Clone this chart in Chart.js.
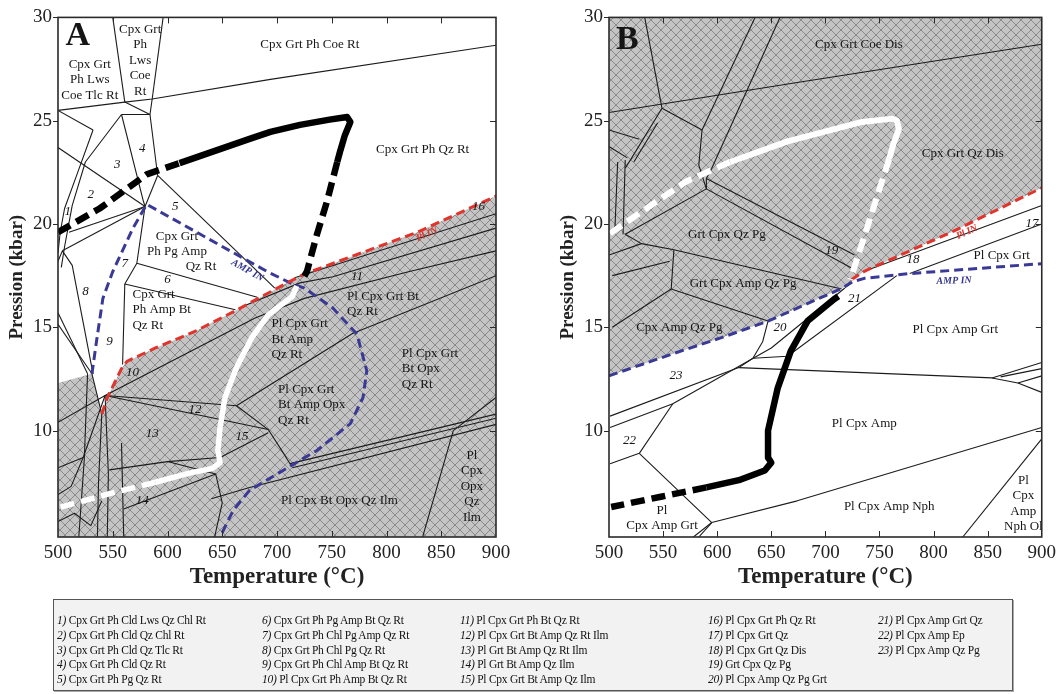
<!DOCTYPE html>
<html>
<head>
<meta charset="utf-8">
<script src="https://cdn.jsdelivr.net/npm/chart.js@4.4.1/dist/chart.umd.min.js"></script>
<style>
  body { margin: 0; background: #fff; width: 1061px; height: 694px; position: relative; overflow: hidden; font-family: "Liberation Serif", serif; }
  #cA { position: absolute; left: 0; top: 0; }
  #cB { position: absolute; left: 551px; top: 0; }
  #legend { position: absolute; left: 53px; top: 599px; width: 958px; height: 90px; background: #f2f2f2; border: 1px solid #555; box-shadow: 1px 1px 0 #aaa; }
  .col { position: absolute; top: 13px; font-size: 11.5px; letter-spacing: -0.25px; line-height: 14.75px; color: #111; white-space: nowrap; }
</style>
</head>
<body>
<canvas id="cA" width="530" height="600"></canvas>
<canvas id="cB" width="510" height="600"></canvas>
<div id="legend"></div>
<script>
// axes
const xTicks = [500, 550, 600, 650, 700, 750, 800, 850, 900];
const yTicks = [10, 15, 20, 25, 30];
const tMin = 500, tMax = 900, pMin = 4.85, pMax = 30;

// ---- panel A ----
const plInA = [[540,10.8],[545,11.6],[558,13.0],[563,13.35],[589,14.0],[625,14.8],[662,15.8],[711,17.2],[726,17.6],[828,19.6],[900,21.35]];
const shadeTopA = [[500,12.3],[531,12.75]].concat(plInA);
const ampInA = [[531,12.75],[535.6,14.48],[541,16.4],[550,17.7],[568.5,19.8],[581,20.95],[691,17.7],[712,17.15],[725,16.9],[751,15.93],[773,14.67],[782,12.89],[778.5,11.59],[767,10.34],[736.5,9.04],[705.5,8.07],[675,7.11],[660,6.14],[648,4.85]];

const progradeA = [[500,19.6],[538,20.75],[581,22.4],[611,22.95]];
const peakA = [[611,22.95],[675,24.12],[694,24.46],[721,24.8],[748,25.05],[764,25.18],[767,24.94],[762,24.3],[757.5,23.49],[755,23.0]];
const decompA = [[755,23.0],[745.6,21.08],[736.5,19.5],[727.4,17.71],[722,17.2]];
const retroA = [[718,17.0],[714,16.5],[692,15.6],[677,14.5],[663,13.05],[652.5,11.6],[648,10.15],[646,9.04],[648,8.45],[641,8.17],[619,7.93],[589,7.5]];
const coolA = [[589,7.5],[548,6.96],[502,6.29]];

const linesA = [
  [[500,25.5],[561,25.9],[586,26.05],[694,27.0],[900,28.65]],
  [[550,30],[561,25.9]],
  [[596,30],[586,26.05]],
  [[561,25.9],[584,25.3]],
  [[558,25.3],[584,25.3]],
  [[586,26.05],[584,25.3],[591,22.35]],
  [[558,25.3],[578,21.1],[579.5,20.85]],
  [[591,22.35],[579.5,20.85]],
  [[591,22.35],[698,16.9]],
  [[500,23.7],[579.5,20.85]],
  [[500,25.5],[532,24.55]],
  [[532,24.55],[518,22.5],[506,20.75],[502,19.6],[500,18.6]],
  [[558,25.3],[525,23.0],[513,20.9],[506,18.9],[503,17.9]],
  [[579.5,20.85],[510,19.6]],
  [[579.5,20.85],[504,18.7]],
  [[500,18.2],[504,18.7],[513,18.0],[522,15.5],[532,12.75]],
  [[500,15.7],[527,12.75]],
  [[500,15.15],[531,12.75]],
  [[579.5,20.85],[572,18.1],[682,16.45]],
  [[572,18.1],[561,17.1],[662,15.85]],
  [[561,17.1],[559,13.2]],
  [[543,11.7],[663,11.2],[692,10.05]],
  [[663,11.2],[769,14.7],[900,17.5]],
  [[543,11.7],[692,10.05],[706,8.9],[713,8.3]],
  [[543,11.7],[680,15.45],[725,16.4],[821,17.7],[900,18.7]],
  [[668,16.0],[721,17.15],[751,17.45],[900,19.8]],
  [[716,17.4],[900,20.5]],
  [[712,8.4],[900,10.8]],
  [[714,8.2],[900,10.6]],
  [[640,6.7],[675,7.25],[900,10.3]],
  [[833,4.85],[861,10.0],[900,11.6]],
  [[543,11.7],[546,7.9],[545,4.85]],
  [[540,10.8],[537,7.5],[536,4.85]],
  [[500,10.4],[543,11.7]],
  [[547,8.1],[600,8.5],[648,8.7],[692,9.9]],
  [[558,9.4],[560,4.85]],
  [[527,12.75],[524,8.6],[519,4.85]],
  [[531,12.75],[540,10.8]],
  [[500,8.2],[523,8.7],[543,11.7]],
  [[500,6.9],[512,7.3],[523,8.7]],
  [[600,8.5],[644,7.9],[650,6.5],[643,4.85]],
  [[560,6.2],[644,7.9]],
  [[500,5.6],[515,6.0],[530,5.4],[540,6.6]]
];

const regionsA = [
  ['Cpx Grt\nPh Lws\nCoe Tlc Rt', 529, 27.73],
  ['Cpx Grt\nPh\nLws\nCoe\nRt', 575, 29.42],
  ['Cpx Grt Ph Coe Rt', 730, 28.7],
  ['Cpx Grt Ph Qz Rt', 833, 23.6],
  ['Cpx Grt\nPh Pg Amp', 608.6, 19.4],
  ['Qz Rt', 630.6, 17.95],
  ['Cpx Grt\nPh Amp Bt\nQz Rt', 568, 16.6, 'left'],
  ['Pl Cpx Grt\nBt Amp\nQz Rt', 695, 15.16, 'left'],
  ['Pl Cpx Grt Bt\nQz Rt', 764, 16.5, 'left'],
  ['Pl Cpx Grt\nBt Opx\nQz Rt', 814, 13.75, 'left'],
  ['Pl Cpx Grt\nBt Amp Opx\nQz Rt', 701, 12.0, 'left'],
  ['Pl Cpx Bt Opx Qz Ilm', 757, 6.6],
  ['Pl\nCpx\nOpx\nQz\nIlm', 878, 8.8]
];
const numbersA = [['1',509,20.6],['2',530,21.4],['3',554,22.9],['4',577,23.65],['5',607,20.85],['6',600,17.3],['7',561,18.1],['8',525,16.75],['9',547,14.3],['10',568,12.8],['11',773,17.45],['12',625,11.0],['13',586,9.85],['14',577,6.6],['15',668,9.7],['16',884,20.85]];
const tagsA = [['AMP IN', 673, 17.75, 29.5], ['Pl IN', 837, 19.5, -24]];
const letterA = ['A', 518, 29.1];

// ---- panel B ----
const plInB = [[724,17.3],[736,17.71],[818,19.64],[900,21.75]];
const ampInB = [[500,12.65],[558,13.7],[604,14.5],[647,15.3],[690,16.3],[716,16.9],[725,17.2],[736,17.37],[778,17.6],[900,18.08]];
const shadeBottomB = [[500,12.65],[558,13.7],[604,14.5],[647,15.3],[690,16.3],[716,16.9],[724,17.25]].concat(plInB.slice(1));

const progradeB = [[501,19.55],[571,22.05],[612,23.0]];
const peakB = [[612,23.0],[665,24.0],[734,24.94],[762,25.1],[766,25.0],[768,24.6],[763,23.9],[759,23.16]];
const decompB = [[759,23.16],[747,21.2],[736,19.4],[726.5,17.86],[723,17.3]];
const retroB = [[712,16.5],[708,16.36],[683.5,15.3],[668,13.85],[656,12.07],[647,10.0],[647,8.7],[650,8.45],[644,8.07],[620,7.6],[590,7.25]];
const coolB = [[590,7.25],[548,6.8],[502,6.3]];

const linesB = [
  [[500,25.4],[674,26.85],[900,28.7]],
  [[533,30],[549,25.6]],
  [[635,30],[586,24.55]],
  [[658,30],[595,22.7]],
  [[549,25.6],[586,24.55],[583,22.85],[590,21.7]],
  [[595,22.7],[590,22.2],[590,21.7]],
  [[549,25.6],[521,23.2],[515,22.7]],
  [[545,24.9],[523,23.0]],
  [[500,24.55],[528,24.1]],
  [[500,23.75],[517,23.2]],
  [[515,23.1],[513,19.5]],
  [[508,23.0],[505.5,19.8]],
  [[590,22.2],[727,18.5]],
  [[590,21.7],[725,17.85]],
  [[590,21.7],[515,19.5],[530,19.05],[560,18.75]],
  [[500,18.5],[530,19.05]],
  [[560,18.75],[715,16.85]],
  [[560,18.75],[557.5,16.85],[647,15.3]],
  [[557.5,16.85],[503,15.0]],
  [[503,17.5],[556,18.2]],
  [[647,15.3],[642,14.3],[633,13.5],[620,13.05]],
  [[501,10.7],[620,13.05],[854,12.55]],
  [[501,10.15],[559,11.3],[650,14.0],[718,16.9]],
  [[633,13.5],[665,13.6],[766,17.5]],
  [[736,17.71],[900,20.9]],
  [[778,17.6],[900,20.0]],
  [[854,12.55],[900,13.3]],
  [[854,12.55],[878,12.3],[900,12.65]],
  [[878,12.3],[900,11.85]],
  [[862,12.6],[900,13.0]],
  [[501,8.4],[528,8.9],[559,11.3]],
  [[528,8.9],[595,5.55],[583,4.85]],
  [[578,4.85],[595,5.55],[674,6.6],[900,10.15]],
  [[900,9.6],[827,4.85]]
];

const regionsB = [
  ['Cpx Grt Coe Dis', 731, 28.7],
  ['Cpx Grt Qz Dis', 827, 23.4],
  ['Grt Cpx Qz Pg', 609, 19.5],
  ['Grt Cpx Amp Qz Pg', 624, 17.1],
  ['Cpx Amp Qz Pg', 565, 15.0],
  ['Pl Cpx Grt', 863, 18.45],
  ['Pl Cpx Amp Grt', 820, 14.9],
  ['Pl Cpx Amp', 736, 10.35],
  ['Pl Cpx Amp Nph', 759, 6.3],
  ['Pl\nCpx\nAmp\nNph Ol', 883, 7.6],
  ['Pl\nCpx Amp Grt', 549, 6.15]
];
const numbersB = [['17',891,20.0],['18',781,18.3],['19',706,18.7],['20',658,15.0],['21',727,16.4],['22',519,9.5],['23',562,12.65]];
const tagsB = [['AMP IN', 819, 17.25, -2], ['Pl IN', 831, 19.6, -25]];
const letterB = ['B', 517, 28.9];

// ---- legend ----
const legendItems = [
  '1) Cpx Grt Ph Cld Lws Qz Chl Rt', '2) Cpx Grt Ph Cld Qz Chl Rt', '3) Cpx Grt Ph Cld Qz Tlc Rt', '4) Cpx Grt Ph Cld Qz Rt', '5) Cpx Grt Ph Pg Qz Rt',
  '6) Cpx Grt Ph Pg Amp Bt Qz Rt', '7) Cpx Grt Ph Chl Pg Amp Qz Rt', '8) Cpx Grt Ph Chl Pg Qz Rt', '9) Cpx Grt Ph Chl Amp Bt Qz Rt', '10) Pl Cpx Grt Ph Amp Bt Qz Rt',
  '11) Pl Cpx Grt Ph Bt Qz Rt', '12) Pl Cpx Grt Bt Amp Qz Rt Ilm', '13) Pl Grt Bt Amp Qz Rt Ilm', '14) Pl Grt Bt Amp Qz Ilm', '15) Pl Cpx Grt Bt Amp Qz Ilm',
  '16) Pl Cpx Grt Ph Qz Rt', '17) Pl Cpx Grt Qz', '18) Pl Cpx Grt Qz Dis', '19) Grt Cpx Qz Pg', '20) Pl Cpx Amp Qz Pg Grt',
  '21) Pl Cpx Amp Grt Qz', '22) Pl Cpx Amp Ep', '23) Pl Cpx Amp Qz Pg'
];

const colLeft = [3, 208, 406, 654, 824];
const legend = document.getElementById('legend');
colLeft.forEach((left, c) => {
  const div = document.createElement('div');
  div.className = 'col';
  div.style.left = left + 'px';
  div.innerHTML = legendItems.slice(c * 5, c * 5 + 5).map(s => {
    const i = s.indexOf(' ');
    return '<i>' + s.slice(0, i) + '</i>' + s.slice(i);
  }).join('<br>');
  legend.appendChild(div);
});

// hatch fill
function hatch() {
  const c = document.createElement('canvas');
  c.width = c.height = 10;
  const g = c.getContext('2d');
  g.fillStyle = '#c4c4c4';
  g.fillRect(0, 0, 10, 10);
  g.strokeStyle = '#8a8a8a';
  g.lineWidth = 1;
  g.beginPath();
  g.moveTo(0, 0); g.lineTo(10, 10);
  g.moveTo(10, 0); g.lineTo(0, 10);
  g.stroke();
  return g.createPattern(c, 'repeat');
}
const hatchFill = hatch();

const pts = a => a.map(([x, y]) => ({x, y}));
function seg(data, color, width, dash, order) {
  return {
    data: pts(data), borderColor: color, borderWidth: width, borderDash: dash,
    pointRadius: 0, fill: false, order: order, borderCapStyle: 'butt', borderJoinStyle: 'round'
  };
}

const framePlugin = {
  id: 'frame',
  afterDraw(chart) {
    const {ctx, chartArea: a, scales: {x, y}} = chart;
    ctx.save();
    ctx.strokeStyle = '#2a2a2a';
    ctx.lineWidth = 1;
    ctx.beginPath();
    xTicks.slice(1, -1).forEach(v => {
      const px = Math.round(x.getPixelForValue(v)) + 0.5;
      ctx.moveTo(px, a.bottom); ctx.lineTo(px, a.bottom - 6);
      ctx.moveTo(px, a.top); ctx.lineTo(px, a.top + 6);
    });
    yTicks.forEach(v => {
      const py = Math.round(y.getPixelForValue(v)) + 0.5;
      ctx.moveTo(a.left - 5, py); ctx.lineTo(a.left, py);
      ctx.moveTo(a.right, py); ctx.lineTo(a.right - 6, py);
    });
    ctx.stroke();
    ctx.lineWidth = 1.6;
    ctx.strokeRect(a.left, a.top, a.right - a.left, a.bottom - a.top);
    ctx.restore();
  }
};

function textPlugin(regions, numbers, tags, letter) {
  return {
    id: 'texts',
    afterDatasetsDraw(chart) {
      const {ctx, scales: {x, y}} = chart;
      ctx.save();
      ctx.fillStyle = '#151515';
      ctx.textBaseline = 'middle';
      regions.forEach(([txt, t, p, align]) => {
        ctx.font = '13px "Liberation Serif"';
        ctx.textAlign = align === 'left' ? 'left' : 'center';
        txt.split('\n').forEach((s, i) => ctx.fillText(s, x.getPixelForValue(t), y.getPixelForValue(p) + i * 15.5));
      });
      ctx.textAlign = 'center';
      ctx.font = 'italic 13px "Liberation Serif"';
      numbers.forEach(([s, t, p]) => ctx.fillText(s, x.getPixelForValue(t), y.getPixelForValue(p)));
      tags.forEach(([s, t, p, deg]) => {
        ctx.save();
        ctx.translate(x.getPixelForValue(t), y.getPixelForValue(p));
        ctx.rotate(deg * Math.PI / 180);
        ctx.font = 'bold italic 10px "Liberation Serif"';
        ctx.fillStyle = s === 'Pl IN' ? '#d8322a' : '#35358f';
        ctx.fillText(s, 0, 0);
        ctx.restore();
      });
      ctx.font = 'bold 34px "Liberation Serif"';
      ctx.fillText(letter[0], x.getPixelForValue(letter[1]), y.getPixelForValue(letter[2]));
      ctx.restore();
    }
  };
}

const tickFont = {family: 'Liberation Serif', size: 19};
function scales() {
  return {
    x: {
      type: 'linear', min: tMin, max: tMax,
      afterBuildTicks: s => { s.ticks = xTicks.map(v => ({value: v})); },
      afterFit: s => { s.height = 63; },
      grid: {display: false, drawTicks: false}, border: {display: false},
      ticks: {font: tickFont, color: '#222', padding: 5, maxRotation: 0, autoSkip: false},
      title: {display: true, text: 'Temperature (°C)', font: {family: 'Liberation Serif', size: 23, weight: 'bold'}, color: '#222', padding: {top: 0, bottom: 9}}
    },
    y: {
      type: 'linear', min: pMin, max: pMax,
      afterBuildTicks: s => { s.ticks = yTicks.map(v => ({value: v})); },
      afterFit: s => { s.width = 58; },
      grid: {display: false, drawTicks: false}, border: {display: false},
      ticks: {font: tickFont, color: '#222', padding: 6, autoSkip: false},
      title: {display: true, text: 'Pression (kbar)', font: {family: 'Liberation Serif', size: 19, weight: 'bold'}, color: '#222', padding: {top: 6, bottom: 0}}
    }
  };
}

function makeChart(id, padRight, datasets, plugin) {
  return new Chart(document.getElementById(id), {
    type: 'line',
    data: {datasets},
    options: {
      responsive: false, animation: false, events: [],
      layout: {padding: {left: 0, right: padRight, top: 15, bottom: 0}},
      plugins: {legend: {display: false}, tooltip: {enabled: false}},
      scales: scales()
    },
    plugins: [framePlugin, plugin]
  });
}

const RED = '#e0342c', BLUE = '#3a3a96', INK = '#1c1c1c';
const dashC = [9, 5], dashP = [14, 7];

const dsA = [{data: pts(shadeTopA), fill: 'start', backgroundColor: hatchFill, borderColor: 'rgba(0,0,0,0)', borderWidth: 0, pointRadius: 0, order: 100}]
  .concat(linesA.map(l => seg(l, INK, 1.1, [], 50)))
  .concat([
    seg(plInA, RED, 3, dashC, 20),
    seg(ampInA, BLUE, 3, dashC, 20),
    seg(progradeA, '#000', 6.5, dashP, 5),
    seg(peakA, '#000', 6.5, [], 5),
    seg(decompA, '#000', 6.5, dashP, 5),
    seg(retroA, '#fff', 5.5, [], 5),
    seg(coolA, '#fff', 5.5, dashP, 5)
  ]);

const dsB = [{data: pts(shadeBottomB), fill: 'end', backgroundColor: hatchFill, borderColor: 'rgba(0,0,0,0)', borderWidth: 0, pointRadius: 0, order: 100}]
  .concat(linesB.map(l => seg(l, INK, 1.1, [], 50)))
  .concat([
    seg(plInB, RED, 3, dashC, 20),
    seg(ampInB, BLUE, 3, dashC, 20),
    seg(progradeB, '#fff', 6, dashP, 5),
    seg(peakB, '#fff', 6, [], 5),
    seg(decompB, '#fff', 6, dashP, 5),
    seg(retroB, '#000', 6.5, [], 5),
    seg(coolB, '#000', 6.5, dashP, 5)
  ]);

makeChart('cA', 34, dsA, textPlugin(regionsA, numbersA, tagsA, letterA));
makeChart('cB', 14, dsB, textPlugin(regionsB, numbersB, tagsB, letterB));
</script>
</body>
</html>
